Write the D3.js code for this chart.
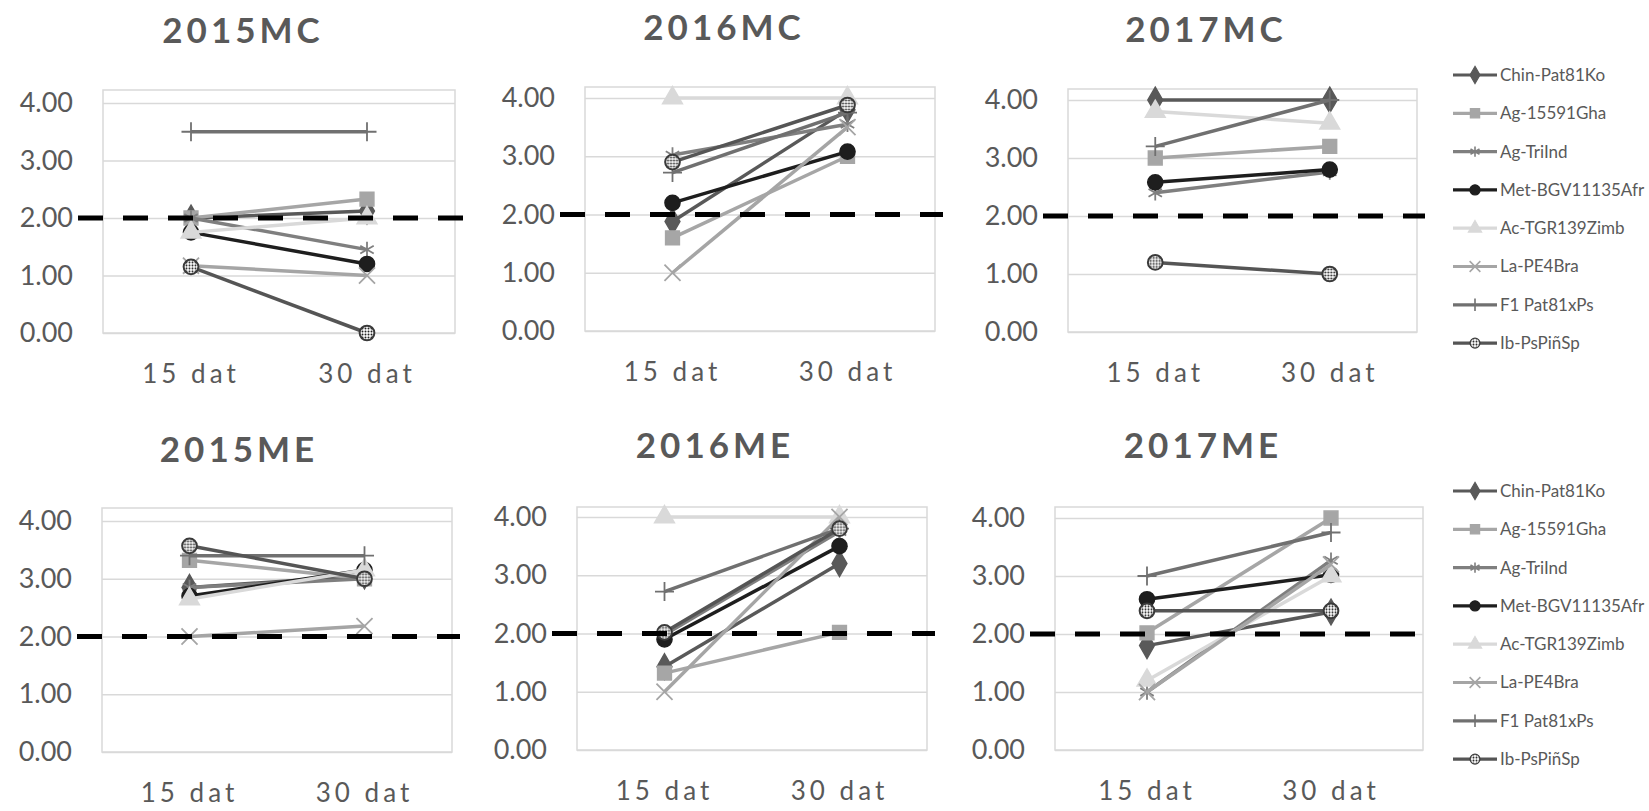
<!DOCTYPE html>
<html>
<head>
<meta charset="utf-8">
<script src="https://cdn.jsdelivr.net/npm/d3@7"></script>
<style>
  body { margin: 0; background: #fff; }
  text { font-family: Lato, "Open Sans", sans-serif; }
</style>
</head>
<body>
<script>
// data
var categories = ["15 dat", "30 dat"];
var seriesNames = ["Chin-Pat81Ko", "Ag-15591Gha", "Ag-TriInd", "Met-BGV11135Afr",
                   "Ac-TGR139Zimb", "La-PE4Bra", "F1 Pat81xPs", "Ib-PsPiñSp"];
var yTicks = [0, 1, 2, 3, 4];
var threshold = 2;
var panelTitles = ["2015MC", "2016MC", "2017MC", "2015ME", "2016ME", "2017ME"];

// one pair [15 dat, 30 dat] per series, same order as seriesNames
var v2015MC = [[2.0, 2.12], [2.0, 2.33], [2.0, 1.45], [1.75, 1.2], [1.75, 2.0], [1.17, 1.0], [3.5, 3.5], [1.15, 0.0]];
var v2016MC = [[1.88, 3.8], [1.6, 3.0], [3.02, 3.55], [2.2, 3.08], [4.0, 4.0], [1.0, 3.5], [2.72, 3.75], [2.9, 3.88]];
var v2017MC = [[4.0, 4.0], [3.0, 3.2], [2.4, 2.76], [2.58, 2.8], [3.8, 3.6], [null, null], [3.2, 4.0], [1.2, 1.0]];
var v2015ME = [[2.85, 3.05], [3.32, 3.0], [2.85, 3.0], [2.7, 3.15], [2.65, 3.15], [2.0, 2.18], [3.4, 3.4], [3.57, 3.0]];
var v2016ME = [[1.43, 3.2], [1.32, 2.02], [1.98, 3.75], [1.9, 3.5], [4.0, 4.0], [1.0, 4.0], [2.72, 3.8], [2.02, 3.8]];
var v2017ME = [[1.8, 2.38], [2.02, 4.0], [1.0, 3.27], [2.6, 3.02], [1.2, 3.0], [1.0, 3.2], [3.0, 3.75], [2.4, 2.4]];
var panelValues = [v2015MC, v2016MC, v2017MC, v2015ME, v2016ME, v2017ME];

// layout of the six plot areas (pixels)
var panels = [
  {left: 103,  right: 455,  top: 90,  y4: 103, y0: 333, tx: 241,  ty: 43},
  {left: 585,  right: 935,  top: 87,  y4: 98,  y0: 331, tx: 722,  ty: 40},
  {left: 1068, right: 1417, top: 89,  y4: 100, y0: 332, tx: 1204, ty: 42},
  {left: 102,  right: 452,  top: 508, y4: 521, y0: 752, tx: 237,  ty: 462},
  {left: 577,  right: 927,  top: 507, y4: 517, y0: 750, tx: 713,  ty: 458},
  {left: 1055, right: 1423, top: 507, y4: 518, y0: 750, tx: 1201, ty: 458}
];

var styles = [
  {color: "#595959", symbol: d3.symbolDiamond, size: 190, fill: true},
  {color: "#a6a6a6", symbol: d3.symbolSquare,  size: 190, fill: true},
  {color: "#7f7f7f", symbol: d3.symbolAsterisk || d3.symbolCross, size: 170, fill: false},
  {color: "#1e1e1e", symbol: d3.symbolCircle,  size: 180, fill: true},
  {color: "#d9d9d9", symbol: d3.symbolTriangle, size: 170, fill: true},
  {color: "#a5a5a5", symbol: d3.symbolTimes || d3.symbolX, size: 170, fill: false},
  {color: "#707070", symbol: d3.symbolPlus, size: 120, fill: false},
  {color: "#555555", symbol: d3.symbolCircle,  size: 170, fill: "pattern"}
];

var W = 1649, H = 811;
var svg = d3.select("body").append("svg")
    .attr("width", W)
    .attr("height", H)
    .style("display", "block");

// dotted fill for the Ib-PsPiñSp marker
var defs = svg.append("defs");
var pat = defs.append("pattern")
    .attr("id", "dots")
    .attr("width", 3).attr("height", 3)
    .attr("patternUnits", "userSpaceOnUse");
pat.append("rect").attr("width", 3).attr("height", 3).attr("fill", "#fff");
pat.append("circle").attr("cx", 1.5).attr("cy", 1.5).attr("r", 1).attr("fill", "#222");

function markerFill(s) {
    if (s.fill === "pattern") return "url(#dots)";
    return s.fill ? s.color : "none";
}
function markerStroke(s) {
    if (s.fill === "pattern") return "#3a3a3a";
    return s.color;
}
function markerWidth(s) {
    if (s.fill === "pattern") return 2;
    return s.fill ? 1.5 : 1.8;
}

panels.forEach(function (p, pi) {
    var g = svg.append("g").attr("class", "panel");
    var x = d3.scaleBand().domain(categories).range([p.left, p.right]);
    var y = d3.scaleLinear().domain([0, 4]).range([p.y0, p.y4]);
    var cx = function (c) { return x(c) + x.bandwidth() / 2; };

    // plot area border
    g.append("rect")
        .attr("x", p.left).attr("y", p.top)
        .attr("width", p.right - p.left).attr("height", p.y0 - p.top)
        .attr("fill", "none").attr("stroke", "#d9d9d9").attr("stroke-width", 1.5);

    // y axis with gridlines
    var yAxis = d3.axisLeft(y).tickValues(yTicks).tickFormat(d3.format(".2f"))
        .tickSize(-(p.right - p.left)).tickPadding(30);
    g.append("g").attr("transform", "translate(" + p.left + ",0)").call(yAxis)
        .call(function (a) { a.select(".domain").remove(); })
        .call(function (a) { a.selectAll("line").attr("stroke", "#d9d9d9").attr("stroke-width", 1.5); })
        .call(function (a) {
            a.selectAll("text").attr("fill", "#595959")
                .style("font-size", "27px").style("font-family", "Lato, sans-serif");
        });

    // x axis labels
    var xAxis = d3.axisBottom(x).tickSize(0);
    g.append("g").attr("transform", "translate(0," + p.y0 + ")").call(xAxis)
        .call(function (a) { a.select(".domain").remove(); })
        .call(function (a) {
            a.selectAll("text").attr("y", 50).attr("dy", 0).attr("fill", "#595959")
                .style("font-size", "26px").style("letter-spacing", "4px")
                .style("font-family", "Lato, sans-serif");
        });

    // title
    g.append("text")
        .attr("x", p.tx + 2).attr("y", p.ty)
        .attr("text-anchor", "middle")
        .attr("fill", "#595959")
        .style("font-size", "35px").style("font-weight", "bold").style("letter-spacing", "4px")
        .text(panelTitles[pi]);

    // series
    var vals = panelValues[pi];
    var line = d3.line()
        .defined(function (d) { return d.v != null; })
        .x(function (d) { return cx(d.c); })
        .y(function (d) { return y(d.v); });

    vals.forEach(function (pair, si) {
        var s = styles[si];
        var pts = categories.map(function (c, ci) { return {c: c, v: pair[ci]}; });
        var sg = g.append("g").attr("class", "series");
        sg.append("path").datum(pts)
            .attr("d", line)
            .attr("fill", "none")
            .attr("stroke", s.color)
            .attr("stroke-width", 3.5);
        sg.selectAll(".mk").data(pts.filter(function (d) { return d.v != null; }))
            .enter().append("path")
            .attr("class", "mk")
            .attr("transform", function (d) { return "translate(" + cx(d.c) + "," + y(d.v) + ")"; })
            .attr("d", d3.symbol().type(s.symbol).size(s.size))
            .attr("fill", markerFill(s))
            .attr("stroke", markerStroke(s))
            .attr("stroke-width", markerWidth(s));
    });

    // threshold line at 2.00
    g.append("line")
        .attr("x1", p.left - 25).attr("x2", p.right + 8)
        .attr("y1", y(threshold)).attr("y2", y(threshold))
        .attr("stroke", "#000").attr("stroke-width", 5)
        .attr("stroke-dasharray", "25,20");
});

// legends
var legendTops = [75, 491];
legendTops.forEach(function (top) {
    var lg = svg.append("g").attr("class", "legend");
    seriesNames.forEach(function (name, i) {
        var s = styles[i];
        var yy = top + i * 38.3;
        var it = lg.append("g").attr("transform", "translate(1453," + yy + ")");
        it.append("line").attr("x1", 0).attr("x2", 44).attr("y1", 0).attr("y2", 0)
            .attr("stroke", s.color).attr("stroke-width", 3.2);
        it.append("path")
            .attr("transform", "translate(22,0)")
            .attr("d", d3.symbol().type(s.symbol).size(s.size * 0.45))
            .attr("fill", markerFill(s))
            .attr("stroke", markerStroke(s))
            .attr("stroke-width", s.fill ? 1.2 : 1.6);
        it.append("text").attr("x", 47).attr("y", 0).attr("dy", "0.35em")
            .attr("fill", "#595959")
            .style("font-size", "17px")
            .text(name);
    });
});
</script>
</body>
</html>
